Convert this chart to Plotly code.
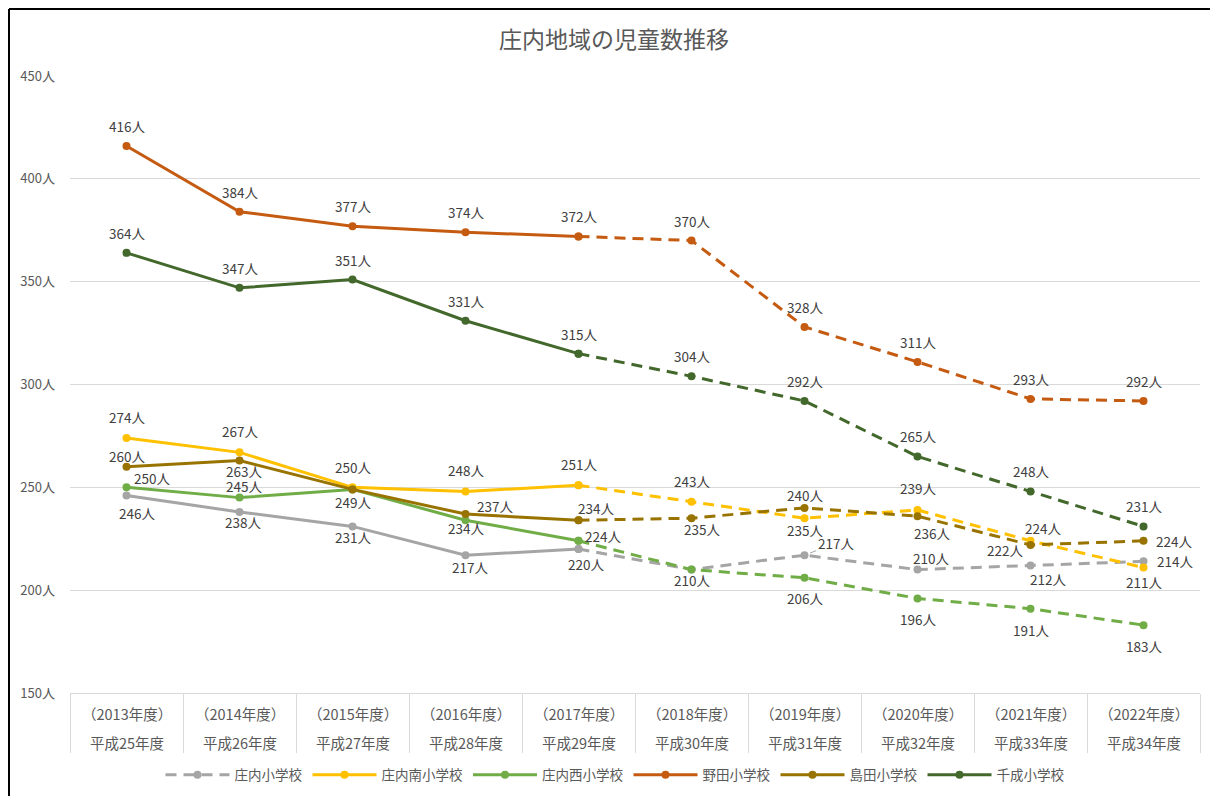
import numpy as np
import plotly.graph_objects as go

# ---------------- data ----------------
years_label = ["（2013年度）", "（2014年度）", "（2015年度）", "（2016年度）", "（2017年度）",
               "（2018年度）", "（2019年度）", "（2020年度）", "（2021年度）", "（2022年度）"]
heisei_label = ["平成25年度", "平成26年度", "平成27年度", "平成28年度", "平成29年度",
                "平成30年度", "平成31年度", "平成32年度", "平成33年度", "平成34年度"]

shonai = [246, 238, 231, 217, 220, 210, 217, 210, 212, 214]
shonai_minami = [274, 267, 250, 248, 251, 243, 235, 239, 224, 211]
shonai_nishi = [250, 245, 249, 234, 224, 210, 206, 196, 191, 183]
noda = [416, 384, 377, 374, 372, 370, 328, 311, 293, 292]
shimada = [260, 263, 249, 237, 234, 235, 240, 236, 222, 224]
sennari = [364, 347, 351, 331, 315, 304, 292, 265, 248, 231]

series_names = ["庄内小学校", "庄内南小学校", "庄内西小学校", "野田小学校", "島田小学校", "千成小学校"]
series_values = [shonai, shonai_minami, shonai_nishi, noda, shimada, sennari]
y_ticks = [150, 200, 250, 300, 350, 400, 450]
last_actual = 4  # index of 2017 (actual data up to here, projections after)

# ---------------- styles ----------------
colors = ["#A5A5A5", "#FFC000", "#70AD47", "#C55A11", "#997300", "#43682B"]
FONT = "Noto Sans CJK JP"
W, H = 1218, 796
PAGE = 8  # browser body margin
# plot area in screen pixels: x 70..1200, y 76..693
ML = 70 - PAGE
MT = 76 - PAGE
PW, PH = 1130, 617
MR = W - ML - PW
MB = H - MT - PH

# label offsets (px: dx right, dy down) per series/point; None = leader line, "skip" = hidden duplicate
label_off = [
    [(10, 17), (3, 10), (0, 11), (4, 12), (7, 15), "skip", None, (13, -12), (17, 14), (31, 0)],
    [(0, -21), (0, -21), (0, -20), (0, -21), (0, -21), (0, -21), (0, 12), (0, -22), (12, -13), (0, 14)],
    [(25, -9), (4, -12), (0, 13), (0, 8), (24, -5), (0, 10), (0, 20), (0, 21), (0, 21), (0, 21)],
    [(0, -20)] * 10,
    [(0, -11), (4, 10), "skip", (29, -8), (17, -12), (10, 11), (0, -13), (14, 17), (-26, 5), (30, 0)],
    [(0, -20)] * 10,
]

fig = go.Figure()
x_idx = np.arange(len(years_label))

for k, (name, vals, col) in enumerate(zip(series_names, series_values, colors)):
    vals = np.array(vals)
    solid_x = x_idx[: last_actual + 1]
    dash_x = x_idx[last_actual:]
    fig.add_trace(go.Scatter(
        x=solid_x, y=vals[: last_actual + 1], mode="lines+markers", name=name,
        line=dict(color=col, width=3), marker=dict(size=8, color=col),
        legendgroup=name, showlegend=(k != 0), legendrank=k + 1,
        hoverinfo="skip"))
    fig.add_trace(go.Scatter(
        x=dash_x, y=vals[last_actual:], mode="lines+markers", name=name,
        line=dict(color=col, width=3, dash="11px,7px"), marker=dict(size=8, color=col),
        legendgroup=name, showlegend=(k == 0), legendrank=k + 1,
        hoverinfo="skip"))

annotations = []
for k, vals in enumerate(series_values):
    for i, v in enumerate(vals):
        off = label_off[k][i]
        txt = f"{v}人"
        if isinstance(off, str):
            continue
        if off is None:
            annotations.append(dict(
                x=i, y=v, xref="x", yref="y", text=txt, showarrow=True,
                ax=31, ay=-12, arrowhead=0, arrowwidth=1, arrowcolor="#A5A5A5",
                standoff=6, font=dict(family=FONT, size=13.5, color="#404040")))
        else:
            annotations.append(dict(
                x=i, y=v, xref="x", yref="y", text=txt, showarrow=False,
                xshift=off[0], yshift=-off[1],
                font=dict(family=FONT, size=13.5, color="#404040")))

# category label rows
for i, (a, b) in enumerate(zip(years_label, heisei_label)):
    annotations.append(dict(x=i, y=0, xref="x", yref="paper", text=a, showarrow=False,
                            yanchor="middle", yshift=-20,
                            font=dict(family=FONT, size=14.5, color="#595959")))
    annotations.append(dict(x=i, y=0, xref="x", yref="paper", text=b, showarrow=False,
                            yanchor="middle", yshift=-49,
                            font=dict(family=FONT, size=14.5, color="#595959")))


def px_x(p):  # screen px -> paper
    return (p - PAGE - ML) / PW


def px_y(p):
    return (MT + PH - (p - PAGE)) / PH


boundaries = np.arange(len(years_label) + 1) - 0.5

border = [
    dict(type="line", xref="paper", yref="paper", x0=px_x(9), x1=px_x(1226),
         y0=px_y(9), y1=px_y(9), line=dict(color="black", width=2), layer="above"),
    dict(type="line", xref="paper", yref="paper", x0=px_x(9), x1=px_x(9),
         y0=px_y(9), y1=px_y(810), line=dict(color="black", width=2), layer="above"),
]

fig.update_layout(
    width=W, height=H,
    margin=dict(l=ML, r=MR, t=MT, b=MB, autoexpand=False),
    paper_bgcolor="white", plot_bgcolor="white",
    title=dict(text="庄内地域の児童数推移", x=(614 - PAGE) / W, xanchor="center",
               y=1 - (40 - PAGE) / H, yanchor="middle",
               font=dict(family=FONT, size=23, color="#595959")),
    font=dict(family=FONT, size=13, color="#595959"),
    xaxis=dict(range=[-0.5, len(years_label) - 0.5], tickvals=boundaries,
               ticktext=[""] * len(boundaries), ticks="outside", ticklen=59,
               tickcolor="#D9D9D9", tickwidth=1, showgrid=False, zeroline=False,
               showline=True, linecolor="#D9D9D9", linewidth=1, fixedrange=True,
               automargin=False),
    yaxis=dict(range=[y_ticks[0], y_ticks[-1]], tickvals=y_ticks,
               ticktext=[f"{v}人" for v in y_ticks],
               showgrid=True, gridcolor="#D9D9D9", gridwidth=1, zeroline=False,
               showline=False, ticklabelstandoff=14, automargin=False,
               tickfont=dict(family=FONT, size=13, color="#595959")),
    legend=dict(orientation="h", x=px_x(615), xanchor="center", y=px_y(775),
                yanchor="middle", font=dict(family=FONT, size=13.5, color="#595959"),
                itemwidth=64, bgcolor="rgba(0,0,0,0)"),
    annotations=annotations,
    shapes=border,
)

fig.write_html("out.html")
